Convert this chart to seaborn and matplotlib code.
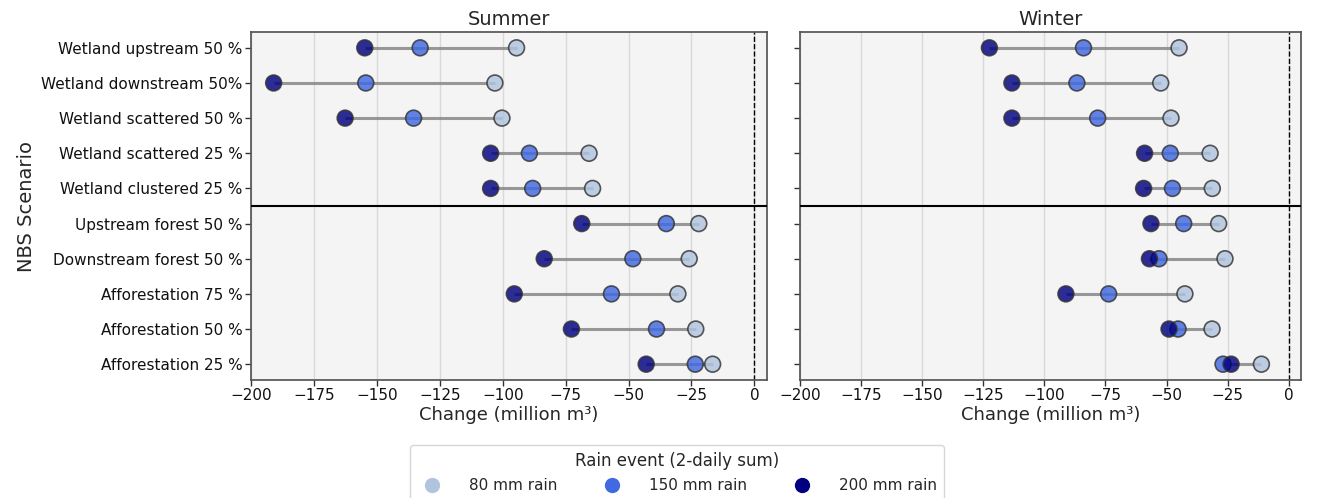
import pandas as pd
import numpy as np
import matplotlib
matplotlib.use("Agg")
import matplotlib.pyplot as plt
import seaborn as sns

scenarios = [
    "Wetland upstream 50 %", "Wetland downstream 50%", "Wetland scattered 50 %",
    "Wetland scattered 25 %", "Wetland clustered 25 %", "Upstream forest 50 %",
    "Downstream forest 50 %", "Afforestation 75 %", "Afforestation 50 %",
    "Afforestation 25 %",
]
rain_events = ["80 mm rain", "150 mm rain", "200 mm rain"]
colors = ["lightsteelblue", "royalblue", "navy"]

# change in million m3, one list per rain event
summer_80 = [-94.5, -103.1, -100.3, -65.7, -64.3, -22.1, -25.9, -30.4, -23.3, -16.6]
summer_150 = [-132.8, -154.4, -135.4, -89.4, -88.1, -35.0, -48.3, -56.8, -38.9, -23.5]
summer_200 = [-154.8, -191.0, -162.6, -104.8, -104.8, -68.6, -83.5, -95.4, -72.7, -43.0]

winter_80 = [-44.9, -52.4, -48.2, -32.2, -31.3, -28.7, -26.1, -42.5, -31.4, -11.2]
winter_150 = [-84.0, -86.7, -78.2, -48.5, -47.6, -43.0, -53.1, -73.7, -45.3, -26.9]
winter_200 = [-122.5, -113.3, -113.3, -59.0, -59.4, -56.4, -57.0, -91.2, -49.0, -23.6]

seasons = {
    "Summer": [summer_80, summer_150, summer_200],
    "Winter": [winter_80, winter_150, winter_200],
}

sns.set_theme(style="white")
plt.rcParams["font.family"] = ["DejaVu Sans"]

fig = plt.figure(figsize=(13.2, 4.98), dpi=100)
W, H = 1320, 498
ax1 = fig.add_axes([251 / W, 1 - 380 / H, 516 / W, 348 / H])
ax2 = fig.add_axes([800 / W, 1 - 380 / H, 501 / W, 348 / H], sharey=ax1)
axes = [ax1, ax2]

for ax, (season, series) in zip(axes, seasons.items()):
    df = pd.DataFrame({
        "scenario": scenarios * 3,
        "rain": np.repeat(rain_events, len(scenarios)),
        "change": np.concatenate(series),
    })
    ax.set_facecolor("#f4f4f4")
    ax.grid(axis="x", color="#d9d9d9", linewidth=1)
    ax.set_axisbelow(True)

    wide = df.pivot(index="scenario", columns="rain", values="change").loc[scenarios]
    ax.hlines(np.arange(len(scenarios)), wide.min(axis=1), wide.max(axis=1),
              color="gray", linewidth=2.2, alpha=0.8, zorder=2)

    sns.scatterplot(data=df, x="change", y="scenario", hue="rain",
                    hue_order=rain_events, palette=colors, s=130, alpha=0.82,
                    edgecolor="#333333", linewidth=1.2, zorder=3, ax=ax,
                    legend=False)

    ax.axvline(0, color="black", linestyle="--", linewidth=1, zorder=1)
    ax.axhline(4.5, color="black", linewidth=1.5, zorder=4)
    ax.set_xlim(-200, 5)
    ax.set_ylim(9.45, -0.45)
    ax.set_xticks(np.arange(-200, 1, 25))
    ax.set_title(season, fontsize=14, pad=5)
    ax.set_xlabel("Change (million m³)", fontsize=13, labelpad=2)
    ax.tick_params(axis="both", labelsize=11, length=4, width=1, color="#333333",
                   labelcolor="#111111", left=True, bottom=True, pad=2)
    for sp in ax.spines.values():
        sp.set_color("#555555")

ax1.set_ylabel("NBS Scenario", fontsize=14)
ax2.set_ylabel("")
ax2.tick_params(axis="y", labelleft=False)

handles = [plt.Line2D([], [], marker="o", linestyle="", markersize=11,
                      markerfacecolor=c, markeredgecolor="none") for c in colors]
fig.legend(handles, rain_events, title="Rain event (2-daily sum)", ncol=3,
           loc="upper center", bbox_to_anchor=(677 / W, 1 - 437 / H), fontsize=11,
           title_fontsize=12, frameon=True, columnspacing=2.6, handletextpad=1.4,
           borderpad=0.5)

fig.savefig("out.png", dpi=100)
